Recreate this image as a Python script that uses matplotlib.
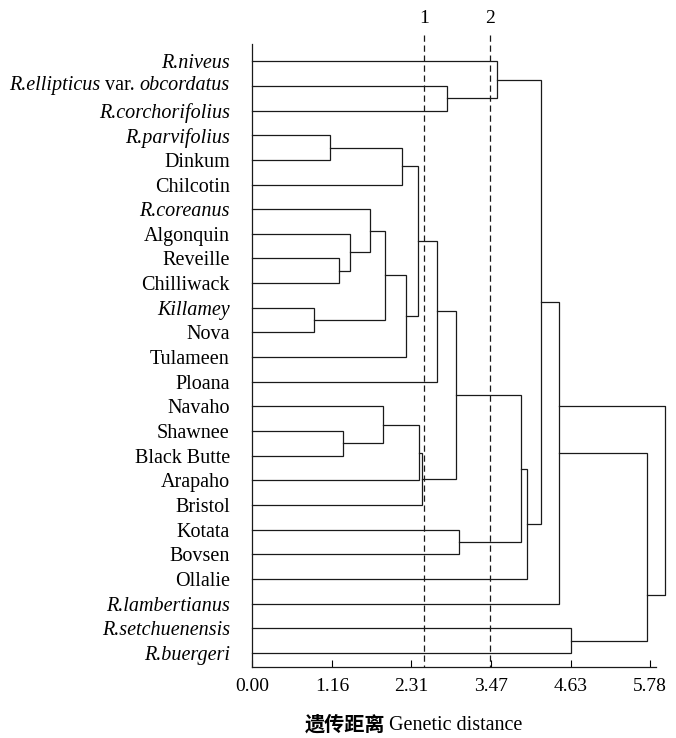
import matplotlib
matplotlib.use("Agg")
import matplotlib.pyplot as plt

plt.rcParams['font.family'] = ['Liberation Serif', 'Noto Sans CJK SC']

# leaves, top to bottom
leaves = ["R.niveus", "R.ellipticus var. obcordatus", "R.corchorifolius",
          "R.parvifolius", "Dinkum", "Chilcotin", "R.coreanus", "Algonquin",
          "Reveille", "Chilliwack", "Killamey", "Nova", "Tulameen", "Ploana",
          "Navaho", "Shawnee", "Black Butte", "Arapaho", "Bristol", "Kotata",
          "Bovsen", "Ollalie", "R.lambertianus", "R.setchuenensis", "R.buergeri"]
italic_leaves = ["R.niveus", "R.corchorifolius", "R.parvifolius", "R.coreanus",
                 "Killamey", "R.lambertianus", "R.setchuenensis", "R.buergeri"]

# merges: (child a, child b, distance); ids >= 25 are earlier merges (25 + k)
merge_a = [3, 25, 8, 7, 6, 10, 29, 31, 26, 33, 15, 14, 36, 37, 34, 19, 39, 41, 1, 0, 44, 45, 23, 46]
merge_b = [4, 5, 9, 27, 28, 11, 30, 12, 32, 13, 16, 35, 17, 18, 38, 20, 40, 21, 2, 43, 42, 22, 24, 47]
merge_h = [1.13, 2.18, 1.26, 1.42, 1.71, 0.90, 1.93, 2.24, 2.41, 2.69, 1.32, 1.90,
           2.42, 2.47, 2.96, 3.00, 3.90, 3.99, 2.83, 3.56, 4.19, 4.46, 4.63, 5.73]

# extra outer bracket drawn in the original figure
outer_h = 6.0
outer_rows = [14.0, 21.65]

ticks = [0.00, 1.16, 2.31, 3.47, 4.63, 5.78]
tick_labels = ["0.00", "1.16", "2.31", "3.47", "4.63", "5.78"]
cut_h = [2.50, 3.46]
cut_labels = ["1", "2"]

fig = plt.figure(figsize=(6.76, 7.38), dpi=100)
ax = fig.add_axes([252 / 676, 71 / 738, 422 / 676, 623 / 738])

lc = "#1a1a1a"
lw = 0.9
n = len(leaves)
pos = {i: (0.0, float(i)) for i in range(n)}
for k, (a, b, h) in enumerate(zip(merge_a, merge_b, merge_h)):
    ha_, ya = pos[a]
    hb, yb = pos[b]
    ax.plot([ha_, h, h, hb], [ya, ya, yb, yb], color=lc, lw=lw,
            solid_joinstyle="miter", clip_on=False)
    pos[n + k] = (h, (ya + yb) / 2)

# outer bracket
ax.plot([merge_h[21], outer_h, outer_h, merge_h[23]],
        [outer_rows[0], outer_rows[0], outer_rows[1], outer_rows[1]],
        color=lc, lw=lw, clip_on=False)

# cut lines
for h, t in zip(cut_h, cut_labels):
    ax.plot([h, h], [-1.05, 24.57], color=lc, lw=0.9, ls=(0, (5, 3)), clip_on=False)
    ax.text(h, -1.75, t, ha="center", va="center", fontsize=14)

ax.set_xlim(0, 422 / 68.9)
ax.set_ylim(24.57, -0.7)

for s in ["top", "right"]:
    ax.spines[s].set_visible(False)
ax.spines["bottom"].set_bounds(0, 5.87)
for s in ["left", "bottom"]:
    ax.spines[s].set_linewidth(0.9)
    ax.spines[s].set_color(lc)

ax.set_xticks(ticks, tick_labels, fontsize=14)
ax.tick_params(axis="x", direction="in", length=5, width=0.8, pad=8)

fs = 14.5
pad = 16
labels = ["" if " var. " in name else name for name in leaves]
ax.set_yticks(range(n), labels, fontsize=fs)
ax.tick_params(axis="y", length=0, pad=pad)
for lbl, name in zip(ax.get_yticklabels(), leaves):
    if name in italic_leaves:
        lbl.set_fontstyle("italic")

# mixed-style label: italic species, roman "var.", italic variety
for i, name in enumerate(leaves):
    if " var. " not in name:
        continue
    sp, var = name.split(" var. ")
    t3 = ax.annotate(var, xy=(0, i), xycoords=ax.get_yaxis_transform(),
                     xytext=(-pad, 0), textcoords="offset points",
                     ha="right", va="center", fontsize=fs, style="italic")
    t2 = ax.annotate("var.", xy=(0, 0.5), xycoords=t3, xytext=(-3.5, 0),
                     textcoords="offset points", ha="right", va="center", fontsize=fs)
    ax.annotate(sp, xy=(0, 0.5), xycoords=t2, xytext=(-3.5, 0),
                textcoords="offset points", ha="right", va="center", fontsize=fs,
                style="italic")

fig.text(385 / 676, 1 - 726 / 738, "遗传距离", ha="right", va="center",
         fontsize=14.5, fontweight="bold")
fig.text(389 / 676, 1 - 726 / 738, "Genetic distance", ha="left", va="center",
         fontsize=14.5)

fig.savefig("out.png", dpi=100)
